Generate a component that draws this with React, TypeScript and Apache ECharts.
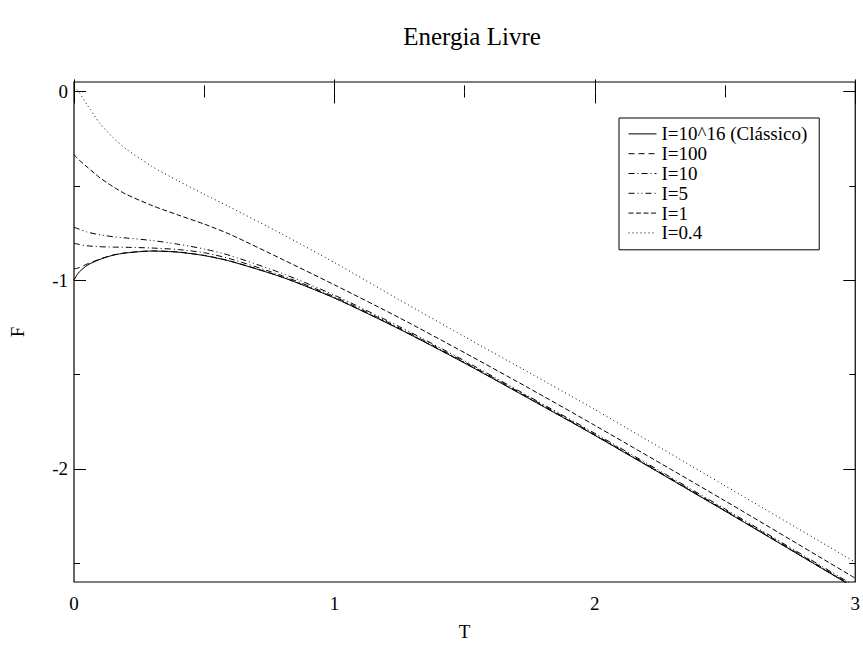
import React, { useEffect, useRef } from "react";
import * as echarts from "echarts";

const temps = [0, 0.01, 0.02, 0.05, 0.1, 0.15, 0.2, 0.3, 0.4, 0.5, 0.6, 0.8, 1.0, 1.25, 1.5, 1.75, 2.0, 2.5, 3.0];

const fClassic = [-1.0, -0.975, -0.957, -0.922, -0.89, -0.868, -0.856, -0.846, -0.852, -0.87, -0.9, -0.985, -1.095, -1.26, -1.44, -1.63, -1.823, -2.224, -2.633];
const fI100 = [-0.94, -0.938, -0.934, -0.915, -0.888, -0.867, -0.855, -0.845, -0.851, -0.869, -0.899, -0.984, -1.094, -1.259, -1.439, -1.629, -1.822, -2.223, -2.632];
const fI10 = [-0.805, -0.808, -0.811, -0.818, -0.823, -0.825, -0.826, -0.83, -0.838, -0.855, -0.887, -0.977, -1.088, -1.254, -1.434, -1.624, -1.818, -2.219, -2.628];
const fI5 = [-0.72, -0.725, -0.73, -0.745, -0.76, -0.77, -0.777, -0.79, -0.81, -0.835, -0.87, -0.965, -1.08, -1.247, -1.428, -1.619, -1.812, -2.213, -2.622];
const fI1 = [-0.335, -0.35, -0.364, -0.4, -0.458, -0.505, -0.545, -0.605, -0.655, -0.703, -0.758, -0.89, -1.025, -1.2, -1.385, -1.575, -1.77, -2.17, -2.58];
const fI04 = [0.025, 0.012, -0.005, -0.07, -0.17, -0.245, -0.305, -0.398, -0.474, -0.545, -0.614, -0.757, -0.907, -1.105, -1.3, -1.492, -1.686, -2.09, -2.495];

const seriesNames = ["I=10^16 (Clássico)", "I=100", "I=10", "I=5", "I=1", "I=0.4"];
const seriesValues = [fClassic, fI100, fI10, fI5, fI1, fI04];
const dashPatterns: any[] = ["solid", [6, 4], [6, 3, 1, 3], [6, 3, 1, 3, 1, 3], [5, 2.5], [1, 3]];

const xTicks = [0, 1, 2, 3];
const yMajor = [-2, -1, 0];
const yMinor = [-2.5, -1.5, -0.5];

const FONT = "'Liberation Serif', 'Times New Roman', serif";

export default function App() {
  const ref = useRef<HTMLDivElement>(null);
  useEffect(() => {
    if (!ref.current) return;
    const chart = echarts.init(ref.current, undefined, { renderer: "svg" });
    const baseY = {
      type: "value",
      min: -2.6,
      max: 0.05,
      splitLine: { show: false },
      axisLine: { show: false },
    };
    const option: any = {
      animation: false,
      backgroundColor: "#fff",
      title: {
        text: "Energia Livre",
        left: 467,
        top: 19,
        textAlign: "center",
        textStyle: { fontFamily: FONT, fontSize: 25, fontWeight: "normal", color: "#000" },
      },
      grid: {
        left: 74,
        right: 2,
        top: 82,
        bottom: 66,
        show: true,
        borderColor: "#000",
        borderWidth: 1.2,
        containLabel: false,
      },
      legend: {
        orient: "vertical",
        left: 619,
        top: 118,
        itemWidth: 28,
        itemHeight: 12,
        itemGap: 0,
        padding: [6, 12, 7, 9],
        borderColor: "#000",
        borderWidth: 1,
        backgroundColor: "#fff",
        selectedMode: false,
        data: seriesNames,
        itemStyle: { opacity: 0 },
        lineStyle: { width: 1, color: "#000" },
        textStyle: { fontFamily: FONT, fontSize: 19, color: "#000", lineHeight: 19.8 },
      },
      xAxis: [
        {
          type: "value",
          min: 0,
          max: 3,
          interval: 1,
          position: "bottom",
          name: "T",
          nameLocation: "middle",
          nameGap: 40,
          nameTextStyle: { fontFamily: FONT, fontSize: 19, color: "#000" },
          axisLine: { show: false },
          axisTick: { inside: true, length: 12, lineStyle: { color: "#000" } },
          minorTick: { show: true, splitNumber: 2, length: 6, lineStyle: { color: "#000" } },
          axisLabel: { fontFamily: FONT, fontSize: 19, color: "#000", margin: 12, customValues: xTicks },
          splitLine: { show: false },
        },
        {
          type: "value",
          min: 0,
          max: 3,
          interval: 1,
          position: "top",
          axisLine: { show: false },
          axisTick: { inside: true, length: 12, lineStyle: { color: "#000" } },
          minorTick: { show: true, splitNumber: 2, length: 6, lineStyle: { color: "#000" } },
          axisLabel: { show: false },
          splitLine: { show: false },
        },
      ],
      yAxis: [
        {
          ...baseY,
          position: "left",
          name: "F",
          nameLocation: "middle",
          nameGap: 47,
          nameTextStyle: { fontFamily: FONT, fontSize: 19, color: "#000" },
          axisTick: { inside: true, length: 12, customValues: yMajor, lineStyle: { color: "#000" } },
          axisLabel: { fontFamily: FONT, fontSize: 19, color: "#000", margin: 6, customValues: yMajor },
        },
        {
          ...baseY,
          position: "left",
          axisTick: { inside: true, length: 6, customValues: yMinor, lineStyle: { color: "#000" } },
          axisLabel: { show: false },
        },
        {
          ...baseY,
          position: "right",
          axisTick: { inside: true, length: 12, customValues: yMajor, lineStyle: { color: "#000" } },
          axisLabel: { show: false },
        },
        {
          ...baseY,
          position: "right",
          axisTick: { inside: true, length: 6, customValues: yMinor, lineStyle: { color: "#000" } },
          axisLabel: { show: false },
        },
      ],
      series: seriesNames.map((name, i) => ({
        name,
        type: "line",
        xAxisIndex: 0,
        yAxisIndex: 0,
        data: temps.map((t, j) => [t, seriesValues[i][j]]),
        showSymbol: false,
        symbol: "none",
        smooth: 0.25,
        clip: true,
        silent: true,
        itemStyle: { color: "#000" },
        lineStyle: { color: "#000", width: 1, type: dashPatterns[i] },
        emphasis: { disabled: true },
      })),
    };
    chart.setOption(option);
    return () => chart.dispose();
  }, []);
  return (
    <div
      ref={ref}
      style={{ position: "fixed", left: 0, top: 0, width: 863, height: 648 }}
    />
  );
}
